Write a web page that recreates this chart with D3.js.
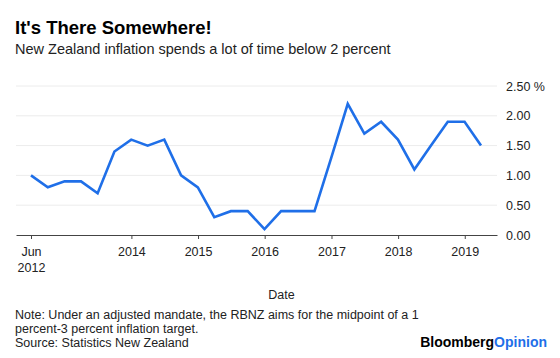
<!DOCTYPE html>
<html>
<head>
<meta charset="utf-8">
<script src="https://cdn.jsdelivr.net/npm/d3@7"></script>
<style>
  html, body { margin: 0; padding: 0; background: #fff; }
  svg { display: block; font-family: "Liberation Sans", Arial, Helvetica, sans-serif; }
</style>
</head>
<body>
<svg id="chart" width="560" height="358"></svg>
<script>
// Quarter-end dates (Jun 2012 .. Mar 2019)
const dates = [
  "2012-06-30","2012-09-30","2012-12-31","2013-03-31","2013-06-30","2013-09-30","2013-12-31",
  "2014-03-31","2014-06-30","2014-09-30","2014-12-31","2015-03-31","2015-06-30","2015-09-30",
  "2015-12-31","2016-03-31","2016-06-30","2016-09-30","2016-12-31","2017-03-31","2017-06-30",
  "2017-09-30","2017-12-31","2018-03-31","2018-06-30","2018-09-30","2018-12-31","2019-03-31"
];
const inflation = [
  1.0, 0.8, 0.9, 0.9, 0.7, 1.4, 1.6,
  1.5, 1.6, 1.0, 0.8, 0.3, 0.4, 0.4,
  0.1, 0.4, 0.4, 0.4, 1.3, 2.2, 1.7,
  1.9, 1.6, 1.1, 1.5, 1.9, 1.9, 1.5
];
const yTicks = [0, 0.5, 1.0, 1.5, 2.0, 2.5];
const xTickDates = ["2012-06-30","2014-01-01","2015-01-01","2016-01-01","2017-01-01","2018-01-01","2019-01-01"];
const xTickLabels = [["Jun","2012"],["2014"],["2015"],["2016"],["2017"],["2018"],["2019"]];

const parse = d3.utcParse("%Y-%m-%d");
const data = dates.map((d, i) => ({ date: parse(d), value: inflation[i] }));

const svg = d3.select("#chart");
const plotLeft = 16, plotRight = 497, plotTop = 86, plotBottom = 235;

const x = d3.scaleUtc()
  .domain([data[0].date, data[data.length - 1].date])
  .range([31, 481]);
x.domain([x.invert(plotLeft), x.invert(plotRight)]).range([plotLeft, plotRight]);

const y = d3.scaleLinear().domain([0, 2.5]).range([plotBottom, plotTop]);

// gridlines
svg.append("g")
  .selectAll("line")
  .data(yTicks.filter(t => t > 0))
  .join("line")
  .attr("x1", plotLeft).attr("x2", plotRight)
  .attr("y1", d => y(d)).attr("y2", d => y(d))
  .attr("stroke", "#ececec").attr("stroke-width", 1);

// y axis labels (right)
const yAxis = d3.axisRight(y).tickValues(yTicks).tickSize(0).tickPadding(9)
  .tickFormat((d, i) => d3.format(".2f")(d) + (d === 2.5 ? " %" : ""));
const gy = svg.append("g").attr("transform", `translate(${plotRight},0)`).call(yAxis);
gy.select(".domain").remove();
gy.selectAll("text").attr("font-size", 12.5).attr("fill", "#222")
  .attr("font-family", "Liberation Sans, Arial, sans-serif");

// x axis
const xAxis = d3.axisBottom(x)
  .tickValues(xTickDates.map(parse))
  .tickSize(4).tickSizeOuter(0)
  .tickFormat(() => "");
const gx = svg.append("g").attr("transform", `translate(0,${plotBottom})`).call(xAxis);
gx.select(".domain").attr("stroke", "#444").attr("stroke-width", 1.2);
gx.selectAll(".tick line").attr("stroke", "#444");
gx.selectAll(".tick").each(function(d, i) {
  const t = d3.select(this).append("text")
    .attr("fill", "#222").attr("font-size", 12.5).attr("text-anchor", "middle")
    .attr("font-family", "Liberation Sans, Arial, sans-serif");
  xTickLabels[i].forEach((s, j) => {
    t.append("tspan").attr("x", 0).attr("y", 21 + j * 15.5).text(s);
  });
});

// line
const line = d3.line().x(d => x(d.date)).y(d => y(d.value));
svg.append("path").datum(data)
  .attr("fill", "none").attr("stroke", "#1f6fe8").attr("stroke-width", 2.6)
  .attr("stroke-linejoin", "miter").attr("d", line);

// titles
svg.append("text").attr("x", 15).attr("y", 34)
  .attr("font-size", 18.5).attr("font-weight", "bold").attr("fill", "#000")
  .text("It's There Somewhere!");
svg.append("text").attr("x", 15).attr("y", 54)
  .attr("font-size", 14.5).attr("fill", "#222")
  .text("New Zealand inflation spends a lot of time below 2 percent");

// axis title
svg.append("text").attr("x", (plotLeft + plotRight) / 2 + 25).attr("y", 299)
  .attr("text-anchor", "middle").attr("font-size", 12.5).attr("fill", "#222")
  .text("Date");

// footer
const notes = [
  "Note: Under an adjusted mandate, the RBNZ aims for the midpoint of a 1",
  "percent-3 percent inflation target.",
  "Source: Statistics New Zealand"
];
svg.append("g").selectAll("text").data(notes).join("text")
  .attr("x", 15).attr("y", (d, i) => 319 + i * 14)
  .attr("font-size", 12.5).attr("fill", "#222").text(d => d);

const brand = svg.append("text").attr("x", 547).attr("y", 347)
  .attr("text-anchor", "end").attr("font-size", 14).attr("font-weight", "bold");
brand.append("tspan").attr("fill", "#000").text("Bloomberg");
brand.append("tspan").attr("fill", "#1f6fe8").text("Opinion");
</script>
</body>
</html>
